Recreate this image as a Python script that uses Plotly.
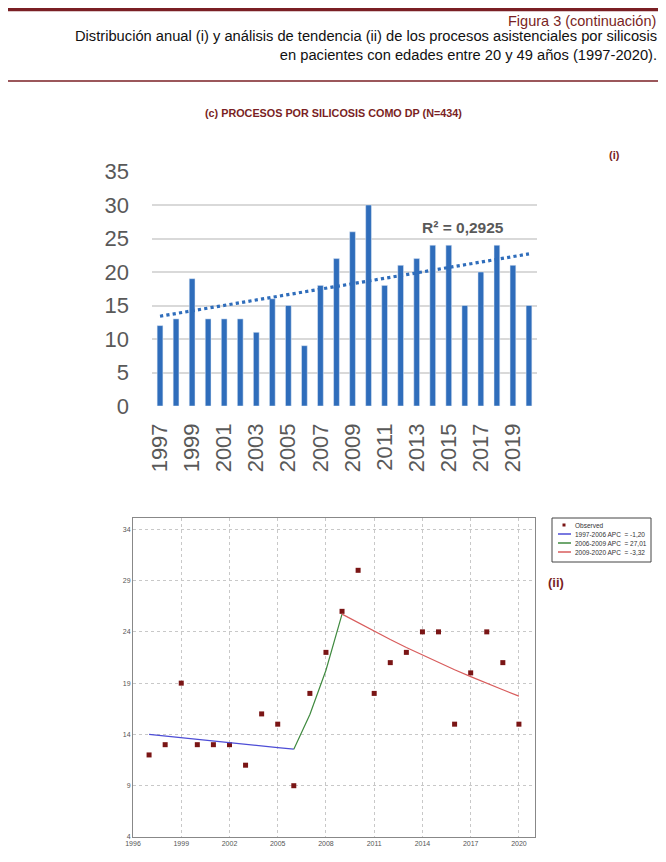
import plotly.graph_objects as go

# datos
years = list(range(1997, 2021))
procesos = [12, 13, 19, 13, 13, 13, 11, 16, 15, 9, 18, 22,
            26, 30, 18, 21, 22, 24, 24, 15, 20, 24, 21, 15]
trend_years = [1997, 2020]
trend_vals = [13.4, 22.7]
r2_text = "R² = 0,2925"

# joinpoint (ii)
seg1_years = list(range(1997, 2007))
seg1_vals = [14.0, 13.83, 13.67, 13.50, 13.34, 13.18, 13.02, 12.87, 12.71, 12.56]
seg2_years = [2006, 2007, 2008, 2009]
seg2_vals = [12.56, 15.95, 20.26, 25.73]
seg3_years = list(range(2009, 2021))
seg3_vals = [25.73, 24.88, 24.05, 23.25, 22.48, 21.73, 21.01, 20.31, 19.64, 18.98, 18.35, 17.74]
seg_names = ["1997-2006 APC  = -1,20", "2006-2009 APC  = 27,01", "2009-2020 APC  = -3,32"]
seg_colors = ["#4d4dd6", "#3f8a3f", "#d85c5c"]

# la página tiene 8px de margen en el body
OFF = 8
W, H = 666 - 2 * OFF, 862 - 2 * OFF
DARKRED = "#7a1f24"
FONT = "Liberation Sans, Arial, sans-serif"


def px(x):
    return (x - OFF) / W


def py(y):
    return 1 - (y - OFF) / H


fig = go.Figure()

# (i) barras
fig.add_trace(go.Bar(x=years, y=procesos, marker_color="#2f6dbb", width=0.36,
                     showlegend=False, xaxis="x", yaxis="y"))
fig.add_trace(go.Scatter(x=trend_years, y=trend_vals, mode="lines",
                         line=dict(color="#2f6dbb", width=3.2, dash="dot"),
                         showlegend=False, xaxis="x", yaxis="y"))

# (ii) tendencia
fig.add_trace(go.Scatter(x=years, y=procesos, mode="markers", name="Observed",
                         marker=dict(symbol="square", size=5, color="#7a1515"),
                         showlegend=False, xaxis="x2", yaxis="y2"))
for xs, ys, nm, col in [(seg1_years, seg1_vals, seg_names[0], seg_colors[0]),
                        (seg2_years, seg2_vals, seg_names[1], seg_colors[1]),
                        (seg3_years, seg3_vals, seg_names[2], seg_colors[2])]:
    fig.add_trace(go.Scatter(x=xs, y=ys, mode="lines", name=nm, showlegend=False,
                             line=dict(color=col, width=1.2),
                             xaxis="x2", yaxis="y2"))

fig.update_layout(
    width=W, height=H,
    margin=dict(l=0, r=0, t=0, b=0, autoexpand=False),
    paper_bgcolor="white", plot_bgcolor="white",
    showlegend=False,
    xaxis=dict(domain=[px(152), px(537)], range=[1996.5, 2020.5],
               tickvals=years[::2], tickangle=-90, showgrid=False,
               tickfont=dict(family=FONT, size=22, color="#595959"),
               ticklabelstandoff=12,
               showline=False, zeroline=False, anchor="y"),
    yaxis=dict(domain=[py(406), py(171.5)], range=[0, 35], dtick=5,
               gridcolor="#d9d9d9", gridwidth=1.6, zeroline=False,
               tickfont=dict(family=FONT, size=22, color="#595959"),
               ticklabelstandoff=22, anchor="x"),
    xaxis2=dict(domain=[px(133), px(535)], range=[1996, 2021],
                tickvals=[1996, 1999, 2002, 2005, 2008, 2011, 2014, 2017, 2020],
                showgrid=True, gridcolor="#c8c8c8", griddash="dot", gridwidth=1,
                showline=True, linecolor="#888888", linewidth=1, mirror=True,
                ticks="", tickfont=dict(family=FONT, size=7, color="#555555"),
                zeroline=False, anchor="y2"),
    yaxis2=dict(domain=[py(837), py(518)], range=[4, 35.1],
                tickvals=[4, 9, 14, 19, 24, 29, 34],
                showgrid=True, gridcolor="#c8c8c8", griddash="dot", gridwidth=1,
                showline=True, linecolor="#888888", linewidth=1, mirror=True,
                ticks="", tickfont=dict(family=FONT, size=7, color="#555555"),
                zeroline=False, anchor="x2"),
)

# cabecera
fig.add_shape(type="line", xref="paper", yref="paper",
              x0=px(8), x1=px(658), y0=py(9.6), y1=py(9.6),
              line=dict(color=DARKRED, width=3.2))
fig.add_shape(type="line", xref="paper", yref="paper",
              x0=px(8), x1=px(658), y0=py(81), y1=py(81),
              line=dict(color=DARKRED, width=1.3))

fig.add_annotation(text="Figura 3 (continuación)", xref="paper", yref="paper",
                   x=px(658), y=py(21), xanchor="right", yanchor="middle", showarrow=False,
                   font=dict(family=FONT, size=14.5, color=DARKRED))
fig.add_annotation(text="Distribución anual (i) y análisis de tendencia (ii) de los procesos asistenciales por silicosis<br>"
                        "en pacientes con edades entre 20 y 49 años (1997-2020).",
                   xref="paper", yref="paper", x=px(659), y=py(46), xanchor="right", yanchor="middle",
                   align="right", showarrow=False,
                   font=dict(family=FONT, size=14.7, color="#111111"))
fig.add_annotation(text="<b>(c) PROCESOS POR SILICOSIS COMO DP (N=434)</b>", xref="paper", yref="paper",
                   x=px(333), y=py(113), xanchor="center", yanchor="middle", showarrow=False,
                   font=dict(family=FONT, size=10.8, color=DARKRED))
fig.add_annotation(text="<b>(i)</b>", xref="paper", yref="paper",
                   x=px(614), y=py(155), xanchor="center", yanchor="middle", showarrow=False,
                   font=dict(family=FONT, size=11, color=DARKRED))
fig.add_annotation(text="<b>(ii)</b>", xref="paper", yref="paper",
                   x=px(556), y=py(582), xanchor="center", yanchor="middle", showarrow=False,
                   font=dict(family=FONT, size=13, color=DARKRED))
fig.add_annotation(text="<b>" + r2_text + "</b>", xref="x", yref="y", x=2015.9, y=26.6,
                   xanchor="center", yanchor="middle", showarrow=False,
                   font=dict(family=FONT, size=15.5, color="#595959"))

# leyenda (ii) dibujada a mano
fig.add_shape(type="rect", xref="paper", yref="paper",
              x0=px(552), x1=px(651), y0=py(562), y1=py(518),
              line=dict(color="#444444", width=1), fillcolor="white")
fig.add_shape(type="rect", xref="paper", yref="paper",
              x0=px(562.5), x1=px(565.5), y0=py(526.5), y1=py(523.5),
              line=dict(width=0), fillcolor="#7a1515")
fig.add_annotation(text="Observed", xref="paper", yref="paper",
                   x=px(573), y=py(525), xanchor="left", yanchor="middle", showarrow=False,
                   font=dict(family=FONT, size=6.5, color="#333333"))
for i, (nm, col) in enumerate(zip(seg_names, seg_colors)):
    ly = 534 + 9 * i
    fig.add_shape(type="line", xref="paper", yref="paper",
                  x0=px(558), x1=px(571), y0=py(ly), y1=py(ly),
                  line=dict(color=col, width=1.5))
    fig.add_annotation(text=nm, xref="paper", yref="paper",
                       x=px(573), y=py(ly), xanchor="left", yanchor="middle", showarrow=False,
                       font=dict(family=FONT, size=6.5, color="#333333"))

fig.write_html("out.html")
